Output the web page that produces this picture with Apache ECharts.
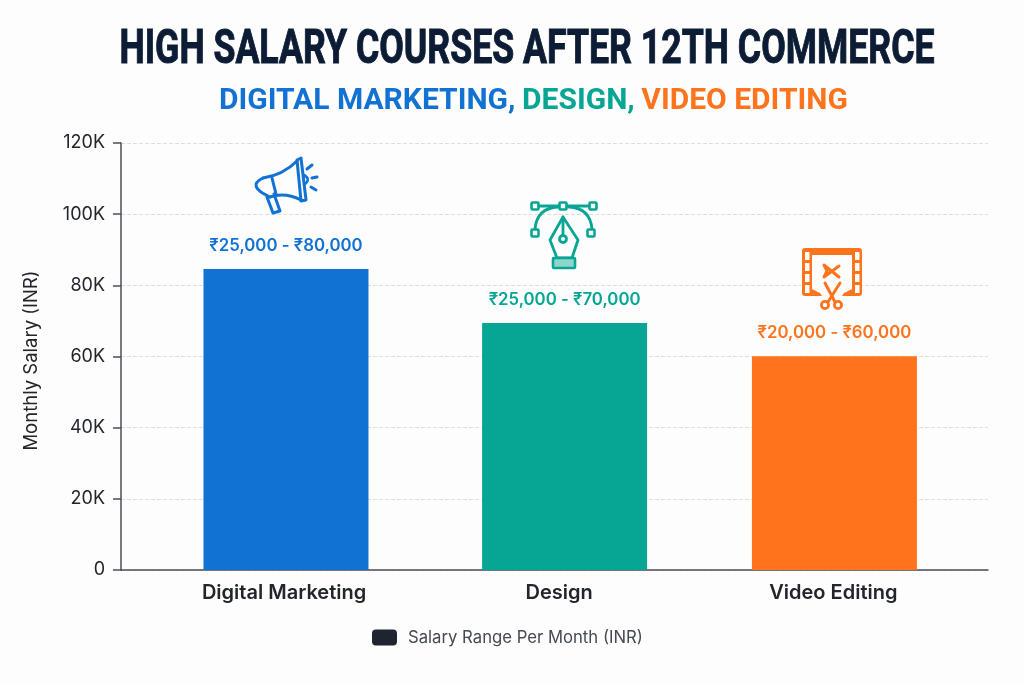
<!DOCTYPE html>
<html><head><meta charset="utf-8">
<style>html,body{margin:0;padding:0;background:#fdfdfd}#c{width:1024px;height:683px}</style>
<script src="https://cdn.jsdelivr.net/npm/echarts@6/dist/echarts.min.js"></script>
</head><body><div id="c"></div>
<script>
const categories = ['Digital Marketing', 'Design', 'Video Editing'];
const salaryTop = [84600, 69400, 60100];
const rangeLabels = ['₹25,000 - ₹80,000', '₹25,000 - ₹70,000', '₹20,000 - ₹60,000'];
const barColors = ['#1272d3', '#06a594', '#fe741d'];
const slots = [0, 1.016, 2];
const labelSlots = [-0.007, 0.996, 1.996];
const seriesName = 'Salary Range Per Month (INR)';
const yTicks = [0, 20000, 40000, 60000, 80000, 100000, 120000];
const mainTitle = 'HIGH SALARY COURSES AFTER 12TH COMMERCE';

const chart = echarts.init(document.getElementById('c'), null, {renderer: 'canvas'});

// decorative line icons
function st(color, w) { return {stroke: color, lineWidth: w || 3, fill: 'none', lineCap: 'round', lineJoin: 'round'}; }
function poly(points, color, w) { return {type: 'polyline', shape: {points}, style: st(color, w)}; }
function line(x1, y1, x2, y2, color, w) { return {type: 'line', shape: {x1, y1, x2, y2}, style: st(color, w)}; }
function curve(x1, y1, cpx1, cpy1, x2, y2, color, w) { return {type: 'bezierCurve', shape: {x1, y1, cpx1, cpy1, x2, y2}, style: st(color, w)}; }
function box(x, y, s, color) { return {type: 'rect', shape: {x: x - s / 2, y: y - s / 2, width: s, height: s, r: 1}, style: {stroke: color, lineWidth: 2.6, fill: '#fdfdfd'}}; }
function ring(cx, cy, r, color) { return {type: 'circle', shape: {cx, cy, r}, style: {stroke: color, lineWidth: 2.8, fill: 'none'}}; }

const blue = barColors[0], teal = barColors[1], orange = barColors[2];
const megaphone = [
  curve(263, 178, 246, 186, 270, 197, blue),
  curve(263, 178, 283, 175, 297, 161, blue),
  curve(270, 197, 285, 192, 301, 200, blue),
  {type: 'polygon', shape: {points: [[297, 160], [301, 158], [306, 200], [301, 201]]}, style: st(blue)},
  line(272, 178, 276, 194, blue),
  poly([[267, 197], [273, 213], [280, 211], [274, 194]], blue),
  curve(304, 175, 311, 179, 305, 184, blue, 2.6),
  line(307, 169, 312, 165, blue), line(312, 178, 317, 177, blue), line(311, 187, 316, 190, blue)
];
const pen = [
  curve(535, 229, 537, 208, 558, 207, teal, 2.8), curve(592, 229, 590, 208, 569, 207, teal, 2.8),
  line(537, 206, 591, 206, teal, 2.8),
  box(535, 206, 7, teal), box(563, 206, 7, teal), box(593, 206, 7, teal), box(535, 233, 7, teal), box(591, 233, 7, teal),
  {type: 'polygon', shape: {points: [[563, 217], [550, 240], [557, 258], [572, 258], [578, 240]]}, style: st(teal, 2.8)},
  line(563, 217, 563, 235, teal, 2.8), ring(563, 239, 3.5, teal),
  {type: 'rect', shape: {x: 553, y: 258, width: 22, height: 10, r: 1}, style: {stroke: teal, lineWidth: 2.6, fill: '#8fd6ca'}}
];
const film = [
  {type: 'rect', shape: {x: 802, y: 248, width: 60, height: 48, r: 3}, style: {fill: orange}},
  {type: 'rect', shape: {x: 812, y: 255, width: 40, height: 41}, style: {fill: '#fdfdfd'}}
];
[252, 263, 274, 285].forEach(y => {
  film.push({type: 'rect', shape: {x: 805, y, width: 4.5, height: 8}, style: {fill: '#fdfdfd'}});
  film.push({type: 'rect', shape: {x: 855, y, width: 4.5, height: 8}, style: {fill: '#fdfdfd'}});
});
film.push(
  {type: 'polygon', shape: {points: [[812, 289], [820, 293], [822, 296], [812, 296]]}, style: {fill: orange}},
  {type: 'polygon', shape: {points: [[852, 289], [844, 293], [842, 296], [852, 296]]}, style: {fill: orange}},
  poly([[839, 277], [824, 265], [827, 271], [824, 277], [839, 266]], orange),
  line(825, 283, 835, 302, orange), line(840, 283, 828, 302, orange),
  ring(825, 305, 3.6, orange), ring(838, 305, 3.6, orange)
);
const titleText = {type: 'text', x: 527, y: 51, scaleX: 0.743, scaleY: 1, originX: 0, originY: 0,
  style: {text: mainTitle, align: 'center', verticalAlign: 'middle', fill: '#0d1c35', stroke: '#0d1c35', lineWidth: 1,
    font: '700 48px Roboto, sans-serif'}};

chart.setOption({
  animation: false,
  backgroundColor: '#fdfdfd',
  textStyle: {fontFamily: 'Inter, Roboto, sans-serif'},
  title: [
    {text: '{a|DIGITAL MARKETING,} {b|DESIGN,} {c|VIDEO EDITING}', left: 214, top: 81,
     textStyle: {fontSize: 28, rich: {
       a: {fontFamily: 'Roboto', fontSize: 30, fontWeight: 'bold', color: blue},
       b: {fontFamily: 'Roboto', fontSize: 30, fontWeight: 'bold', color: teal},
       c: {fontFamily: 'Roboto', fontSize: 30, fontWeight: 'bold', color: orange}}}}
  ],
  grid: {left: 121, right: 36, top: 143, bottom: 113},
  legend: {top: 624, left: 367, icon: 'roundRect', itemWidth: 25, itemHeight: 16, itemGap: 10,
    data: [seriesName], textStyle: {fontSize: 16.7, color: '#444a52', fontFamily: 'Inter', padding: [0, 0, 0, 6]}},
  xAxis: {type: 'value', min: -0.6016, max: 2.56,
    splitLine: {show: false}, axisTick: {show: false},
    axisLine: {show: true, onZero: false, lineStyle: {color: '#4a4f57', width: 1.5}},
    axisLabel: {customValues: labelSlots, margin: 13, fontSize: 20, fontWeight: 600, color: '#22262c', fontFamily: 'Inter',
      formatter: (v) => categories[labelSlots.indexOf(v)] || ''}},
  yAxis: {type: 'value', min: 0, max: 120000, interval: 20000,
    name: 'Monthly Salary (INR)', nameLocation: 'middle', nameGap: 80, nameRotate: 90,
    nameTextStyle: {fontSize: 18.5, color: '#22262c', fontFamily: 'Inter', padding: [0, 8, 0, 0]},
    axisLine: {show: true, onZero: false, lineStyle: {color: '#4a4f57', width: 1.5}},
    axisTick: {show: true, length: 8, lineStyle: {color: '#4a4f57', width: 1.5}},
    splitLine: {show: true, lineStyle: {type: 'dashed', color: '#dedede', width: 1}},
    axisLabel: {margin: 16, fontSize: 18, color: '#22262c', fontFamily: 'Inter', lineHeight: 22, padding: [4, 0, 0, 0],
      customValues: yTicks,
      formatter: (v) => v === 0 ? '0' : (v / 1000) + 'K'}},
  series: [{
    name: seriesName, type: 'bar', barWidth: 165,
    itemStyle: {color: '#1f2530'},
    data: slots.map((s, i) => ({
      value: [s, salaryTop[i]],
      itemStyle: {color: barColors[i]},
      label: {show: true, position: 'top', distance: 15, formatter: rangeLabels[i],
        fontSize: 16.8, fontWeight: 600, fontFamily: 'Inter', color: barColors[i]}
    }))
  }],
  graphic: [titleText, ...megaphone, ...pen, ...film].map(e => Object.assign({silent: true, z: 10}, e))
});
</script></body></html>
